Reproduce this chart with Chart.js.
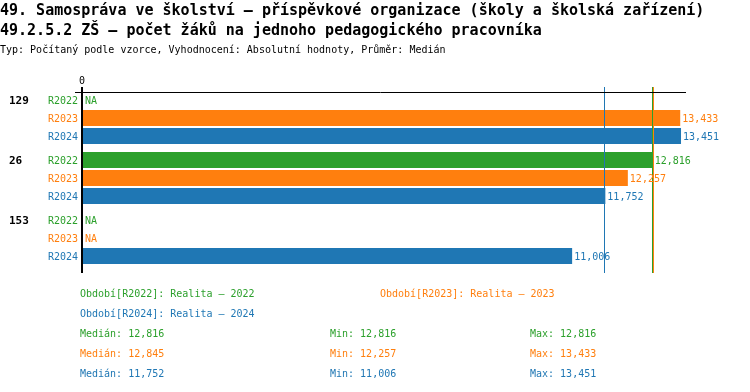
<!DOCTYPE html>
<html>
<head>
<meta charset="utf-8">
<script src="https://cdn.jsdelivr.net/npm/chart.js@4/dist/chart.umd.min.js"></script>
<style>
  html, body { margin: 0; padding: 0; background: #fff; }
  #wrap { position: relative; width: 750px; height: 392px; overflow: hidden; }
  #c { position: absolute; left: 0; top: 0; }
  .t { position: absolute; white-space: pre; font-family: "DejaVu Sans Mono", monospace; }
  .h1 { font-size: 15px; font-weight: bold; line-height: 20px; left: 0; }
  .h2 { font-size: 10px; line-height: 20px; left: 0; }
  .f { font-size: 10px; line-height: 20px; }
</style>
</head>
<body>
<div id="wrap">
  <canvas id="c" width="750" height="392"></canvas>
  <div class="t h1" style="top:0px">49. Samospráva ve školství – příspěvkové organizace (školy a školská zařízení)</div>
  <div class="t h1" style="top:20px">49.2.5.2 ZŠ – počet žáků na jednoho pedagogického pracovníka</div>
  <div class="t h2" style="top:40px">Typ: Počítaný podle vzorce, Vyhodnocení: Absolutní hodnoty, Průměr: Medián</div>
  <div id="foot"></div>
</div>
<script>
// ---- data ----
const groups = ['129', '26', '153'];
const periods = ['R2022', 'R2023', 'R2024'];
const periodNames = ['Realita – 2022', 'Realita – 2023', 'Realita – 2024'];
const colors = ['#2ca02c', '#ff7f0e', '#1f77b4'];
const valuesR2022 = [null, 12816, null];
const valuesR2023 = [13433, 12257, null];
const valuesR2024 = [13451, 11752, 11006];
const medians = [12816, 12845, 11752];
const mins = [12816, 12257, 11006];
const maxs = [12816, 13433, 13451];
const xTicks = [0];

const series = [valuesR2022, valuesR2023, valuesR2024];
const fmt = v => v.toLocaleString('en-US');
const MONO = '"DejaVu Sans Mono", monospace';

// footer (legend + stats)
const foot = document.getElementById('foot');
function addText(txt, x, y, color) {
  const d = document.createElement('div');
  d.className = 't f';
  d.style.left = x + 'px';
  d.style.top = (y - 10) + 'px';
  d.style.color = color;
  d.textContent = txt;
  foot.appendChild(d);
}
const legendPos = [[80, 294], [380, 294], [80, 314]];
periods.forEach((p, i) => addText('Období[' + p + ']: ' + periodNames[i], legendPos[i][0], legendPos[i][1], colors[i]));
periods.forEach((p, i) => {
  const y = 334 + i * 20;
  addText('Medián: ' + fmt(medians[i]), 80, y, colors[i]);
  addText('Min: ' + fmt(mins[i]), 330, y, colors[i]);
  addText('Max: ' + fmt(maxs[i]), 530, y, colors[i]);
});

const decor = {
  id: 'decor',
  afterDatasetsDraw(chart) {
    const ctx = chart.ctx;
    const ca = chart.chartArea;
    const xs = chart.scales.x;
    ctx.save();
    // median reference lines
    medians.forEach((m, i) => {
      const x = Math.floor(xs.getPixelForValue(m) - 0.7) + 0.5;
      ctx.strokeStyle = colors[i];
      ctx.lineWidth = 1;
      ctx.beginPath();
      ctx.moveTo(x, ca.top - 1);
      ctx.lineTo(x, ca.bottom + 5);
      ctx.stroke();
    });
    // top horizontal line
    ctx.strokeStyle = '#000';
    ctx.lineWidth = 1;
    ctx.beginPath();
    ctx.moveTo(ca.left - 7, ca.top + 4.5);
    ctx.lineTo(ca.right, ca.top + 4.5);
    ctx.stroke();
    // vertical axis
    const x0 = xs.getPixelForValue(0);
    ctx.lineWidth = 2;
    ctx.beginPath();
    ctx.moveTo(x0, ca.top - 1);
    ctx.lineTo(x0, ca.bottom + 5);
    ctx.stroke();

    // labels
    ctx.textBaseline = 'middle';
    series.forEach((vals, di) => {
      const meta = chart.getDatasetMeta(di);
      meta.data.forEach((bar, gi) => {
        const y = bar.y;
        ctx.font = '10px ' + MONO;
        ctx.fillStyle = colors[di];
        ctx.textAlign = 'right';
        ctx.fillText(periods[di], x0 - 4, y + 1);
        ctx.textAlign = 'left';
        const v = vals[gi];
        if (v == null) {
          ctx.fillText('NA', x0 + 3, y + 1);
        } else {
          ctx.fillText(fmt(v), bar.x + 2, y + 1);
        }
        if (di === 0) {
          ctx.font = 'bold 11px ' + MONO;
          ctx.fillStyle = '#000';
          ctx.textAlign = 'left';
          ctx.fillText(groups[gi], 9, y + 1);
        }
      });
    });
    ctx.restore();
  }
};

new Chart(document.getElementById('c'), {
  type: 'bar',
  data: {
    labels: groups,
    datasets: series.map((vals, i) => ({
      label: periods[i],
      data: vals,
      backgroundColor: colors[i],
      borderWidth: 0,
      categoryPercentage: 0.9,
      barPercentage: 16 / 18
    }))
  },
  options: {
    indexAxis: 'y',
    responsive: false,
    animation: false,
    events: [],
    layout: { padding: { left: 82, right: 64, top: 68, bottom: 124 } },
    plugins: { legend: { display: false }, tooltip: { enabled: false }, title: { display: false } },
    scales: {
      x: {
        position: 'top',
        min: 0,
        max: 13563,
        afterFit(s) { s.height = 20; },
        afterBuildTicks(s) { s.ticks = xTicks.map(v => ({ value: v })); },
        grid: { display: false, drawTicks: false, tickLength: 0 },
        border: { display: false },
        ticks: {
          font: { family: MONO, size: 10 },
          color: '#000',
          padding: 1,
          callback: v => String(v)
        }
      },
      y: {
        display: false,
        grid: { display: false }
      }
    }
  },
  plugins: [decor]
});
</script>
</body>
</html>
